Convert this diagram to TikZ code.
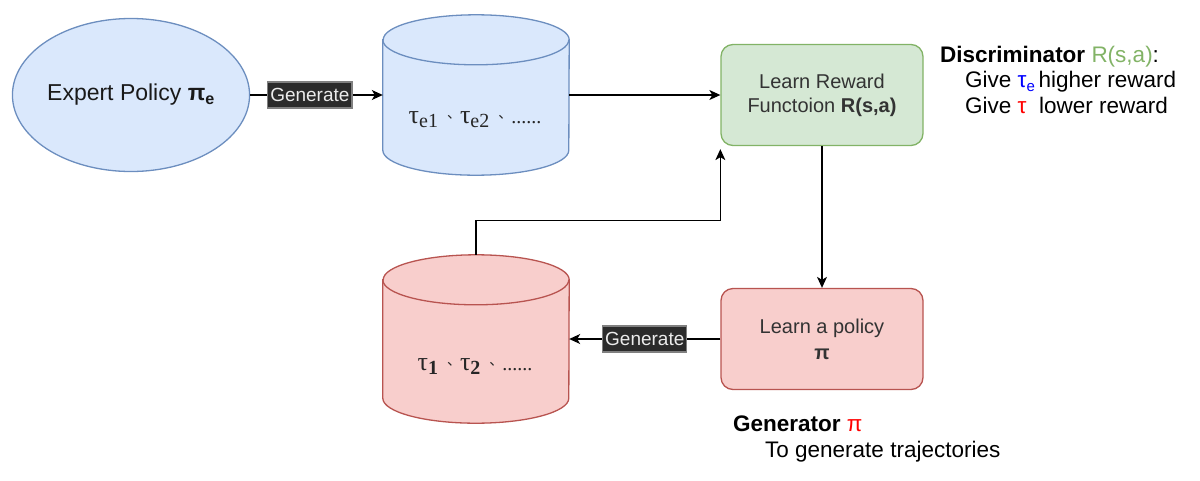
\documentclass[tikz,border=0pt]{standalone}
\usepackage{fontspec}
\setmainfont{Liberation Sans}
\newfontfamily\dbfont{Liberation Serif}
\newfontfamily\cjk{Noto Sans CJK SC}
\usetikzlibrary{arrows.meta,shapes.geometric}
\definecolor{BlueFill}{HTML}{DAE8FC}
\definecolor{BlueLine}{HTML}{6C8EBF}
\definecolor{GreenFill}{HTML}{D5E8D4}
\definecolor{GreenLine}{HTML}{82B366}
\definecolor{RedFill}{HTML}{F8CECC}
\definecolor{RedLine}{HTML}{B85450}
\definecolor{TagFill}{HTML}{2B2B2B}
\definecolor{TextClr}{HTML}{333333}
\newcommand{\dbsep}{\hspace{9pt}\makebox[5pt][l]{\raisebox{5pt}{\cjk\fontsize{14}{14}\selectfont 、}}\hspace{8pt}}
\newcommand{\dbsub}[1]{\raisebox{-4pt}{\fontsize{20}{22}\selectfont #1}}

\begin{document}
\begin{tikzpicture}[x=1pt,y=-1pt,
  box/.style={rectangle,rounded corners=12pt,line width=1.3pt,minimum width=202pt,minimum height=101pt,
    align=center,text=TextClr,font=\fontsize{20}{24}\selectfont},
  tag/.style={fill=TagFill,draw=gray,text=white!92!black,font=\fontsize{19}{22}\selectfont,
    inner xsep=2.5pt,inner ysep=0pt,minimum height=26pt},
  flow/.style={line width=1.2pt,-{Stealth[length=11pt,width=10pt,inset=3pt]}},
  dbbox/.style={minimum width=186pt,inner sep=0pt},
  dbtext/.style={anchor=base,inner sep=0pt,text=black!85,font=\fontsize{26}{30}\dbfont},
  note/.style={anchor=base west,inner sep=0pt,font=\fontsize{22.5}{26}\selectfont}]
\useasboundingbox (0,0) rectangle (1200,480);

% trajectory stores
\node[dbbox,minimum height=160pt] (expdb) at (476,95) {};
\node[dbbox,minimum height=168pt] (gendb) at (476,339) {};

\draw[line width=1.3pt,draw=BlueLine,fill=BlueFill] ([yshift=-25pt]expdb.north west) -- ([yshift=25pt]expdb.south west)
  arc[start angle=180,end angle=360,x radius=93pt,y radius=25pt] -- ([yshift=-25pt]expdb.north east)
  arc[start angle=0,end angle=180,x radius=93pt,y radius=25pt] -- cycle;
\draw[line width=1.3pt,draw=BlueLine] ([yshift=-25pt]expdb.north west) arc[start angle=180,end angle=360,x radius=93pt,y radius=25pt];

\draw[line width=1.3pt,draw=RedLine,fill=RedFill] ([yshift=-25pt]gendb.north west) -- ([yshift=25pt]gendb.south west)
  arc[start angle=180,end angle=360,x radius=93pt,y radius=25pt] -- ([yshift=-25pt]gendb.north east)
  arc[start angle=0,end angle=180,x radius=93pt,y radius=25pt] -- cycle;
\draw[line width=1.3pt,draw=RedLine] ([yshift=-25pt]gendb.north west) arc[start angle=180,end angle=360,x radius=93pt,y radius=25pt];

\node[dbtext] (expdbtxt) at (475,123) {τ\dbsub{e1}\dbsep τ\dbsub{e2}\dbsep{\fontsize{20}{24}\selectfont ......}};
\node[dbtext] (gendbtxt) at (475,370) {τ\dbsub{\textbf{1}}\dbsep τ\dbsub{\textbf{2}}\dbsep{\fontsize{20}{24}\selectfont ......}};

% policies and reward
\node[ellipse,draw=BlueLine,fill=BlueFill,line width=1.3pt,minimum width=237pt,minimum height=153pt,inner sep=0pt,
  text=black!90,font=\fontsize{23}{27}\selectfont] (expert) at (131,95) {Expert Policy \textbf{π}\textsubscript{\textbf{e}}};
\node[box,draw=GreenLine,fill=GreenFill] (reward) at (822,95) {Learn Reward\\Functoion \textbf{R(s,a)}};
\node[box,draw=RedLine,fill=RedFill] (policy) at (822,339) {Learn a policy\\[2pt]\textbf{π}};

\draw[flow] (expert.east) -- node[tag,pos=0.45] (tagexp) {Generate} (expdb.west);
\draw[flow] (expdb.east) -- (reward.west);
\draw[flow] (reward.south) -- (policy.north);
\draw[flow] (policy.west) -- node[tag] (taggen) {Generate} (gendb.east);
\draw[flow] (gendb.north) -- ++(0,-34) -| ([yshift=-3pt]reward.south west);

% side notes
\node[note] (disc1) at (940,62) {\textbf{Discriminator} \textcolor{GreenLine}{R(s,a)}:};
\node[note] (disc2) at (965,87) {Give \textcolor{blue}{τ\raisebox{-4pt}{\fontsize{15}{15}\selectfont e}}\,higher reward};
\node[note] (disc3) at (965,113) {Give \textcolor{red}{τ}\ \ lower reward};
\node[note] (gen1) at (733,431) {\textbf{Generator} \textcolor{red}{π}};
\node[note] (gen2) at (765,457) {To generate trajectories};
\end{tikzpicture}
\end{document}
